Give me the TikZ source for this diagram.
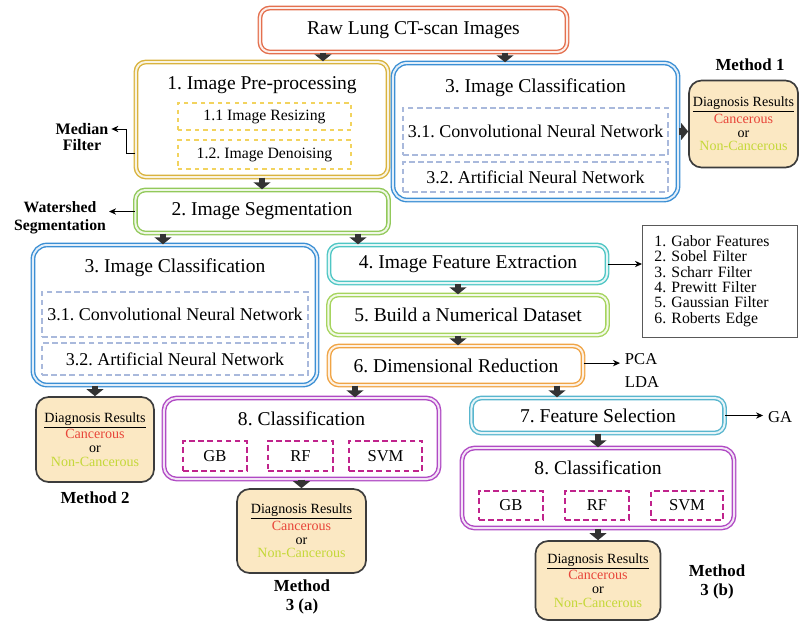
\documentclass[tikz,border=0pt]{standalone}
\usepackage{fontspec}
\setmainfont{Liberation Serif}
\usepackage{tikz}
\usetikzlibrary{
    arrows.meta,
    positioning,
    calc
}
\usepackage{xcolor}
\definecolor{rawc}{HTML}{E4704E}
\definecolor{prec}{HTML}{D9B33E}
\definecolor{prein}{HTML}{F2D35E}
\definecolor{segc}{HTML}{92C95A}
\definecolor{bluec}{HTML}{3B8FD4}
\definecolor{bluein}{HTML}{A9B9DC}
\definecolor{fec}{HTML}{4EC6C4}
\definecolor{dsc}{HTML}{A6D45E}
\definecolor{drc}{HTML}{F0A445}
\definecolor{fsc}{HTML}{58B6CE}
\definecolor{clsc}{HTML}{B04AC4}
\definecolor{clsin}{HTML}{C0238C}
\definecolor{diafill}{HTML}{FBE8C3}
\definecolor{diadraw}{HTML}{3C3C3C}
\definecolor{cancred}{HTML}{E8463A}
\definecolor{noncgreen}{HTML}{C5D83A}
\definecolor{arrc}{HTML}{333333}
\tikzstyle{stage} = [
    rectangle,
    rounded corners=7pt,
    line width=1pt,
    double distance=1.4pt,
    inner sep=0pt,
    font=\fontsize{13.9}{15}\selectfont
]
\tikzstyle{title} = [
    font=\fontsize{13.9}{15}\selectfont
]
\tikzstyle{substage} = [
    rectangle,
    dashed,
    line width=1pt,
    inner sep=0pt,
    font=\fontsize{11.2}{13}\selectfont
]
\tikzstyle{network} = [
    substage,
    draw=bluein,
    dash pattern=on 4pt off 2.5pt,
    font=\fontsize{12.8}{14}\selectfont
]
\tikzstyle{model} = [
    rectangle,
    draw=clsin,
    line width=1.6pt,
    dash pattern=on 4pt off 2.5pt,
    inner sep=0pt,
    font=\fontsize{11.8}{13}\selectfont
]
\tikzstyle{result} = [
    rectangle,
    rounded corners=9pt,
    draw=diadraw,
    line width=1.2pt,
    fill=diafill,
    align=center,
    inner sep=0pt,
    font=\fontsize{10}{9.8}\selectfont
]
\tikzstyle{method} = [
    align=center,
    font=\bfseries\fontsize{12}{13}\selectfont
]
\tikzstyle{note} = [
    align=center,
    inner sep=2pt,
    font=\bfseries\fontsize{11.4}{11.4}\selectfont
]
\tikzstyle{blockarrow} = [
    -{Triangle[width=12pt,length=5pt]},
    line width=4.5pt,
    draw=arrc
]
\tikzstyle{pointer} = [
    -{Stealth[length=5pt,width=4.5pt]},
    line width=0.7pt
]
\newcommand{\diagnosis}{\underline{Diagnosis Results}\\\textcolor{cancred}{Cancerous}\\or\\\textcolor{noncgreen}{Non-Cancerous}}
\frenchspacing

\begin{document}
\begin{tikzpicture}[x=0.025cm, y=-0.025cm]
    \useasboundingbox (0,0) rectangle (799,627);
    % input
    \node[stage, draw=rawc, double=rawc!12, minimum width=7.675cm, minimum height=1.1cm] (raw) at (413.5,30) {Raw Lung CT-scan Images};
    % pre-processing
    \node[stage, draw=prec, double=prec!15, minimum width=6.3cm, minimum height=2.875cm] (pre) at (262,119.5) {};
    \node[title] (preT) at (262,85) {1. Image Pre-processing};
    \node[substage, draw=prein, minimum width=4.325cm, minimum height=0.675cm] (resize) at (264.5,116.5) {1.1 Image Resizing};
    \node[substage, draw=prein, minimum width=4.325cm, minimum height=0.725cm] (denoise) at (264.5,154.5) {1.2. Image Denoising};
    \node[note] (med) at (82,137) {Median\\Filter};
    % segmentation
    \node[stage, draw=segc, double=segc!15, minimum width=6.325cm, minimum height=1.075cm] (seg) at (262,211.5) {2. Image Segmentation};
    \node[note, font=\bfseries\fontsize{11.2}{13}\selectfont] (wat) at (60,218) {Watershed\\Segmentation};
    % method 1
    \node[stage, draw=bluec, double=bluec!15, rounded corners=10pt, minimum width=7.125cm, minimum height=3.425cm] (cls1) at (535.5,131.5) {};
    \node[title] (cls1T) at (535.5,88) {3. Image Classification};
    \node[network, minimum width=6.625cm, minimum height=1.175cm] (cnn1) at (535.5,131.5) {3.1. Convolutional Neural Network};
    \node[network, minimum width=6.625cm, minimum height=0.75cm] (ann1) at (535.5,177) {3.2. Artificial Neural Network};
    \node[result, minimum width=2.725cm, minimum height=2.175cm] (dia1) at (743.5,124) {\diagnosis};
    \node[method] (m1) at (750,65) {Method 1};
    % method 2
    \node[stage, draw=bluec, double=bluec!15, rounded corners=10pt, minimum width=7.1cm, minimum height=3.5cm] (cls2) at (175,315) {};
    \node[title] (cls2T) at (175,268) {3. Image Classification};
    \node[network, minimum width=6.65cm, minimum height=1.125cm] (cnn2) at (175,314.5) {3.1. Convolutional Neural Network};
    \node[network, minimum width=6.65cm, minimum height=0.8cm] (ann2) at (175,359) {3.2. Artificial Neural Network};
    \node[result, minimum width=2.95cm, minimum height=2.125cm] (dia2) at (95,439.5) {\diagnosis};
    \node[method] (m2) at (95,498) {Method 2};
    % features
    \node[stage, draw=fec, double=fec!15, minimum width=6.95cm, minimum height=0.95cm] (fe) at (468,264) {4. Image Feature Extraction};
    \node[draw=gray!70!black, line width=0.6pt, anchor=west, align=left, text width=3.275cm, inner xsep=0.3cm, minimum height=2.8cm, font=\fontsize{11.2}{10.95}\selectfont] (flist) at (642,281) {1. Gabor Features\\2. Sobel Filter\\3. Scharr Filter\\4. Prewitt Filter\\5. Gaussian Filter\\6. Roberts Edge};
    \node[stage, draw=dsc, double=dsc!15, minimum width=6.975cm, minimum height=1cm] (ds) at (468,315) {5. Build a Numerical Dataset};
    \node[stage, draw=drc, double=drc!15, minimum width=6.35cm, minimum height=0.975cm] (dr) at (456,365.5) {6. Dimensional Reduction};
    \node[anchor=west, font=\fontsize{11.8}{13}\selectfont] (pca) at (620,359) {PCA};
    \node[anchor=west, font=\fontsize{11.8}{13}\selectfont] (lda) at (620,382) {LDA};
    % method 3 (a)
    \node[stage, draw=clsc, double=clsc!15, rounded corners=9pt, minimum width=6.875cm, minimum height=2.025cm] (cls3a) at (301.5,438.5) {};
    \node[title] (cls3aT) at (301.5,419) {8. Classification};
    \node[model, minimum width=1.6cm, minimum height=0.75cm] (gbA) at (215,456) {GB};
    \node[model, minimum width=1.625cm, minimum height=0.75cm] (rfA) at (300.5,456) {RF};
    \node[model, minimum width=1.825cm, minimum height=0.75cm] (svmA) at (385.5,456) {SVM};
    \node[result, minimum width=3.225cm, minimum height=2.1cm] (dia3a) at (301.5,531) {\diagnosis};
    \node[method] (m3a) at (302,597) {Method\\3 (a)};
    % method 3 (b)
    \node[stage, draw=fsc, double=fsc!15, minimum width=6.325cm, minimum height=0.875cm] (fs) at (598,415.5) {7. Feature Selection};
    \node[font=\fontsize{11.8}{13}\selectfont] (ga) at (780,417) {GA};
    \node[stage, draw=clsc, double=clsc!15, rounded corners=9pt, minimum width=6.8cm, minimum height=2cm] (cls3b) at (598,488) {};
    \node[title] (cls3bT) at (598,468) {8. Classification};
    \node[model, minimum width=1.6cm, minimum height=0.725cm] (gbB) at (511,505.5) {GB};
    \node[model, minimum width=1.6cm, minimum height=0.725cm] (rfB) at (597,505.5) {RF};
    \node[model, minimum width=1.8cm, minimum height=0.725cm] (svmB) at (687,505.5) {SVM};
    \node[result, minimum width=3.125cm, minimum height=1.975cm] (dia3b) at (598,580.5) {\diagnosis};
    \node[method] (m3b) at (717,582) {Method\\3 (b)};

    % flow
    \draw[blockarrow] ([xshift=-2.2625cm]raw.south) -- ([xshift=-2.2625cm]raw.south |- pre.north);
    \draw[blockarrow] ([xshift=2.2875cm]raw.south) -- ([xshift=2.2875cm]raw.south |- cls1.north);
    \draw[blockarrow] (pre.south) -- (seg.north);
    \draw[blockarrow] ([xshift=-2.475cm]seg.south) -- ([xshift=-2.475cm]seg.south |- cls2.north);
    \draw[blockarrow] ([xshift=2.4cm]seg.south) -- ([xshift=2.4cm]seg.south |- fe.north);
    \draw[blockarrow] ([xshift=-0.25cm]fe.south) -- ([xshift=-0.25cm]fe.south |- ds.north);
    \draw[blockarrow] ([xshift=-0.25cm]ds.south) -- ([xshift=-0.25cm]ds.south |- dr.north);
    \draw[blockarrow] ([xshift=-2.525cm]dr.south) -- ([xshift=-2.525cm]dr.south |- cls3a.north);
    \draw[blockarrow] ([xshift=2.525cm]dr.south) -- ([xshift=2.525cm]dr.south |- fs.north);
    \draw[blockarrow] (fs.south) -- (cls3b.north);
    \draw[blockarrow] (cls3b.south) -- (dia3b.north);
    \draw[blockarrow] (cls3a.south) -- (dia3a.north);
    \draw[blockarrow] ([xshift=-2cm]cls2.south) -- ([xshift=-2cm]cls2.south |- dia2.north);
    \draw[blockarrow] (cls1.east) -- (cls1.east -| dia1.west);
    % techniques
    \draw[pointer] ([yshift=-0.8375cm]pre.west) -- ++(-9,0) |- ([yshift=0.2cm]med.east);
    \draw[pointer] (seg.west) -- (seg.west -| wat.east);
    \draw[pointer] (fe.east) -- (fe.east -| flist.west);
    \draw[pointer] ([yshift=0.06cm]dr.east) -- ([yshift=0.06cm]dr.east -| pca.west);
    \draw[pointer] (fs.east) -- (fs.east -| ga.west);
\end{tikzpicture}
\end{document}
